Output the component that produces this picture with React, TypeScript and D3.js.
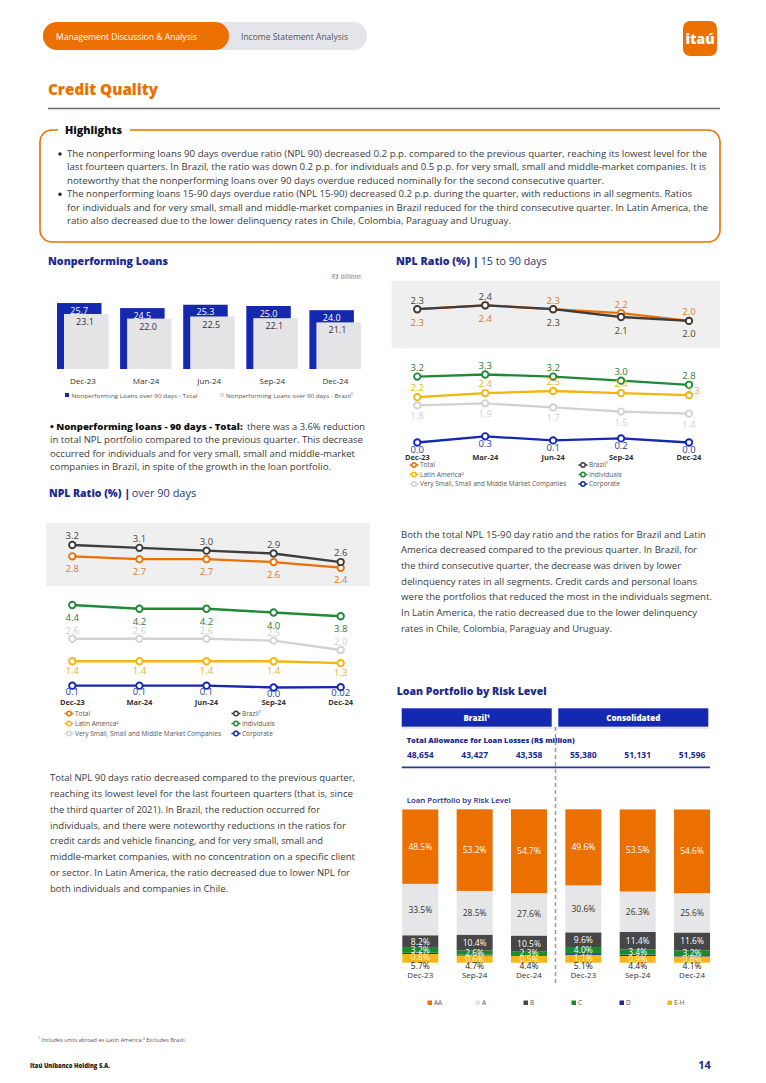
import React from 'react';
import * as d3 from 'd3';

// ---------------- DATA ----------------
const QUARTERS = ['Dec-23', 'Mar-24', 'Jun-24', 'Sep-24', 'Dec-24'];
const NPL_TOTAL = [25.7, 24.5, 25.3, 25.0, 24.0];
const NPL_BRAZIL = [23.1, 22.0, 22.5, 22.1, 21.1];

const R1590_TOTAL = [2.3, 2.4, 2.3, 2.2, 2.0];
const R1590_BRAZIL = [2.3, 2.4, 2.3, 2.1, 2.0];
const R1590_INDIVIDUALS = [3.2, 3.3, 3.2, 3.0, 2.8];
const R1590_LATAM = [2.2, 2.4, 2.5, 2.4, 2.3];
const R1590_SME = [1.8, 1.9, 1.7, 1.5, 1.4];
const R1590_CORPORATE = [0.0, 0.3, 0.1, 0.2, 0.0];

const R90_TOTAL = [2.8, 2.7, 2.7, 2.6, 2.4];
const R90_BRAZIL = [3.2, 3.1, 3.0, 2.9, 2.6];
const R90_INDIVIDUALS = [4.4, 4.2, 4.2, 4.0, 3.8];
const R90_SME = [2.6, 2.6, 2.6, 2.5, 2.0];
const R90_LATAM = [1.4, 1.4, 1.4, 1.4, 1.3];
const R90_CORPORATE = [0.1, 0.1, 0.1, 0.0, 0.02];

const RISK_PERIODS = ['Dec-23', 'Sep-24', 'Dec-24', 'Dec-23', 'Sep-24', 'Dec-24'];
const ALLOWANCE = [48654, 43427, 43358, 55380, 51131, 51596];
const RISK_LEVELS = ['AA', 'A', 'B', 'C', 'D', 'E-H'];
const RISK_AA = [48.5, 53.2, 54.7, 49.6, 53.5, 54.6];
const RISK_A = [33.5, 28.5, 27.6, 30.6, 26.3, 25.6];
const RISK_B = [8.2, 10.4, 10.5, 9.6, 11.4, 11.6];
const RISK_C = [3.2, 2.6, 2.3, 4.0, 3.4, 3.2];
const RISK_D = [0.8, 0.6, 0.5, 1.1, 0.9, 0.8];
const RISK_EH = [5.7, 4.7, 4.4, 5.1, 4.4, 4.1];

// ---------------- TEXT ----------------
const HIGHLIGHTS = [
  { t: 'The nonperforming loans 90 days overdue ratio (NPL 90) decreased 0.2 p.p. compared to the previous quarter, reaching its lowest level for the', end: 707, bullet: true },
  { t: 'last fourteen quarters. In Brazil, the ratio was down 0.2 p.p. for individuals and 0.5 p.p. for very small, small and middle-market companies. It is', end: 706 },
  { t: 'noteworthy that the nonperforming loans over 90 days overdue reduced nominally for the second consecutive quarter.', end: 604 },
  { t: 'The nonperforming loans 15-90 days overdue ratio (NPL 15-90) decreased 0.2 p.p. during the quarter, with reductions in all segments. Ratios', end: 692, bullet: true },
  { t: 'for individuals and for very small, small and middle-market companies in Brazil reduced  for the third consecutive quarter. In Latin America, the', end: 708 },
  { t: 'ratio also decreased due to the lower delinquency rates in Chile, Colombia, Paraguay and Uruguay.', end: 511 },
];
const NPL_PARA = [
  { t: 'in total NPL portfolio compared to the previous quarter. This decrease', end: 363 },
  { t: 'occurred for individuals and for very small, small and middle-market', end: 355 },
  { t: 'companies in Brazil, in spite of the growth in the loan portfolio.', end: 331 },
];
const RIGHT_PARA = [
  { t: 'Both the total NPL 15-90 day ratio and the ratios for Brazil and Latin', end: 706 },
  { t: 'America decreased compared to the previous quarter. In Brazil, for', end: 697 },
  { t: 'the third consecutive quarter, the decrease was driven by lower', end: 681 },
  { t: 'delinquency rates in all segments. Credit cards and personal loans', end: 697 },
  { t: 'were the portfolios that reduced the most in the individuals segment.', end: 712 },
  { t: 'In Latin America, the ratio decreased due to the lower delinquency', end: 697 },
  { t: 'rates in Chile, Colombia, Paraguay and Uruguay.', end: 612 },
];
const LEFT_PARA = [
  { t: 'Total NPL 90 days ratio decreased compared to the previous quarter,', end: 355 },
  { t: 'reaching its lowest level for the last fourteen quarters (that is, since', end: 353 },
  { t: 'the third quarter of 2021). In Brazil, the reduction occurred for', end: 320 },
  { t: 'individuals, and there were noteworthy reductions in the ratios for', end: 346 },
  { t: 'credit cards and vehicle financing, and for very small, small and', end: 323 },
  { t: 'middle-market companies, with no concentration on a specific client', end: 355 },
  { t: 'or sector. In Latin America, the ratio decreased due to lower NPL for', end: 350 },
  { t: 'both individuals and companies in Chile.', end: 228 },
];

// ---------------- STYLE ----------------
const ORANGE = '#ec7000';
const NAVY = '#1b2a8e';
const BLUE = '#1428b0';
const TEXT = '#3a3a3a';
const DARK = '#3d3d3d';
const GREEN = '#1f8a36';
const YELLOW = '#f5b50f';
const LIGHT = '#d2d2d2';
const FONT = "'Open Sans', 'Noto Sans', sans-serif";

const fmt = (v: number) => (Math.abs(v * 10 - Math.round(v * 10)) < 1e-9 ? v.toFixed(1) : String(v));

const T = ({ x, y, w, children, size = 9.5, fill = TEXT, weight = 400, anchor = 'start', italic = false }: any) => (
  <text
    x={x}
    y={y}
    fontSize={size}
    fill={fill}
    fontWeight={weight}
    textAnchor={anchor}
    fontStyle={italic ? 'italic' : undefined}
    {...(w ? { textLength: w, lengthAdjust: 'spacingAndGlyphs' } : {})}
  >
    {children}
  </text>
);

type SeriesCfg = {
  name: string;
  label?: string;
  values: number[];
  color: string;
  labelColor: string;
  panel: 'top' | 'bottom';
  dy: number[];
  dx?: number[];
};

function LineChart({ x0, x1, top, bottom, series, catY, legendX, legendY, legendOrder }: any) {
  const x = d3.scalePoint<string>().domain(QUARTERS).range([x0, x1]);
  const line = (s: SeriesCfg) => {
    const sc = s.panel === 'top' ? top : bottom;
    return d3
      .line<number>()
      .x((_, i) => x(QUARTERS[i]) as number)
      .y((v) => sc(v))(s.values) as string;
  };
  return (
    <g>
      {series.map((s: SeriesCfg) => {
        const sc = s.panel === 'top' ? top : bottom;
        return (
          <g key={s.name}>
            <path d={line(s)} fill="none" stroke={s.color} strokeWidth={2.3} />
            {s.values.map((v, i) => (
              <circle key={i} cx={x(QUARTERS[i])} cy={sc(v)} r={3.2} fill="#fff" stroke={s.color} strokeWidth={1.9} />
            ))}
          </g>
        );
      })}
      {series.map((s: SeriesCfg) => {
        const sc = s.panel === 'top' ? top : bottom;
        return s.values.map((v, i) => (
          <text
            key={s.name + i}
            x={(x(QUARTERS[i]) as number) + (s.dx ? s.dx[i] : 0)}
            y={sc(v) + s.dy[i]}
            fontSize={9.5}
            fill={s.labelColor}
            textAnchor="middle"
          >
            {fmt(v)}
          </text>
        ));
      })}
      {QUARTERS.map((q) => (
        <text key={q} x={x(q)} y={catY} fontSize={7.5} fontWeight={700} fill="#333" textAnchor="middle">
          {q}
        </text>
      ))}
      {legendOrder.map((name: string, k: number) => {
        const s = series.find((d: SeriesCfg) => d.name === name);
        const col = k < 3 ? 0 : 1;
        const row = k % 3;
        const cx = legendX[col];
        const cy = legendY[row];
        return (
          <g key={name}>
            <line x1={cx - 4.5} x2={cx + 4.5} y1={cy} y2={cy} stroke={s.color} strokeWidth={1.6} />
            <circle cx={cx} cy={cy} r={2.2} fill="#fff" stroke={s.color} strokeWidth={1.4} />
            <text x={cx + 6} y={cy + 2.3} fontSize={6.5} fill="#555">
              {s.label || name}
            </text>
          </g>
        );
      })}
    </g>
  );
}

function NplBars() {
  const x = d3.scalePoint<string>().domain(QUARTERS).range([83, 335.4]);
  const y = d3.scaleLinear().domain([10, 30]).range([369, 285]);
  const bw = 44.5;
  return (
    <g>
      {QUARTERS.map((q, i) => {
        const c = x(q) as number;
        return (
          <g key={q}>
            <rect x={c - 26} y={y(NPL_TOTAL[i])} width={bw} height={y(10) - y(NPL_TOTAL[i])} fill={BLUE} />
            <rect x={c - 19} y={y(NPL_BRAZIL[i])} width={bw} height={y(10) - y(NPL_BRAZIL[i])} fill="#e4e4e7" />
            <text x={c - 3.75} y={y(NPL_TOTAL[i]) + 10.5} fontSize={9} fill="#fff" textAnchor="middle">
              {NPL_TOTAL[i].toFixed(1)}
            </text>
            <text x={c + 2} y={y(NPL_BRAZIL[i]) + 11} fontSize={9} fill="#333" textAnchor="middle">
              {NPL_BRAZIL[i].toFixed(1)}
            </text>
            <text x={c} y={384} fontSize={8} fill="#333" textAnchor="middle">
              {q}
            </text>
          </g>
        );
      })}
      <rect x={65} y={393} width={4} height={4} fill={BLUE} />
      <T x={71.5} y={397.5} size={6} fill="#555" w={126}>Nonperforming Loans over 90 days - Total</T>
      <rect x={220} y={393} width={4} height={4} fill="#e0e0e0" />
      <T x={226} y={397.5} size={6} fill="#555" w={127}>Nonperforming Loans over 90 days - Brazil¹</T>
    </g>
  );
}

function RiskChart() {
  const ids = d3.range(RISK_PERIODS.length).map(String);
  const x = d3.scaleBand<string>().domain(ids).range([393.125, 719.225]).paddingInner(0.3376).paddingOuter(0.1688);
  const y = d3.scaleLinear().domain([0, 100]).range([962.7, 809.3]);
  const rows = ids.map((id, i) => ({
    id,
    AA: RISK_AA[i],
    A: RISK_A[i],
    B: RISK_B[i],
    C: RISK_C[i],
    D: RISK_D[i],
    EH: RISK_EH[i],
  }));
  const keys = ['EH', 'D', 'C', 'B', 'A', 'AA'];
  const colors: Record<string, string> = { AA: ORANGE, A: '#e6e6e8', B: '#474747', C: '#1a8a2e', D: '#1a2a9a', EH: '#f7b51a' };
  const labelFill: Record<string, string> = { AA: '#fff', A: '#333', B: '#fff', C: '#fff', D: '#fff3cf', EH: '#222' };
  const stacked = d3.stack<any>().keys(keys)(rows);
  const fmtP = (v: number) => d3.format('.1f')(v) + '%';
  const legendKeys = ['AA', 'A', 'B', 'C', 'D', 'EH'];
  return (
    <g>
      {stacked.map((layer) => (
        <g key={layer.key}>
          {layer.map((d, i) => (
            <rect key={i} x={x(ids[i])} y={y(d[1])} width={x.bandwidth()} height={y(d[0]) - y(d[1])} fill={colors[layer.key]} />
          ))}
        </g>
      ))}
      {stacked.map((layer) =>
        layer.map((d, i) => {
          const k = layer.key;
          const mid = (y(d[0]) + y(d[1])) / 2;
          let ty = mid + 3;
          if (k === 'D') ty = mid + 6.5;
          if (k === 'EH') ty = y(0) + 6;
          return (
            <text key={k + i} x={(x(ids[i]) as number) + x.bandwidth() / 2} y={ty} fontSize={8.5} fill={labelFill[k]} textAnchor="middle">
              {fmtP((d.data as any)[k])}
            </text>
          );
        })
      )}
      {RISK_PERIODS.map((p, i) => (
        <text key={i} x={(x(ids[i]) as number) + x.bandwidth() / 2} y={978} fontSize={8} fill="#333" textAnchor="middle">
          {p}
        </text>
      ))}
      {ALLOWANCE.map((v, i) => (
        <text key={i} x={(x(ids[i]) as number) + x.bandwidth() / 2} y={757.5} fontSize={8.5} fontWeight={700} fill={NAVY} textAnchor="middle">
          {d3.format(',')(v)}
        </text>
      ))}
      {legendKeys.map((k, i) => (
        <g key={k}>
          <rect x={427.5 + 48 * i} y={1000.5} width={4.5} height={4.5} fill={colors[k]} />
          <text x={434 + 48 * i} y={1005} fontSize={6.5} fill="#555">
            {RISK_LEVELS[i]}
          </text>
        </g>
      ))}
    </g>
  );
}

export default function App() {
  const top1590 = d3.scaleLinear().domain([2.0, 2.4]).range([320.9, 305.3]);
  const bot1590 = d3.scaleLinear().domain([0, 3.3]).range([442.5, 374.5]);
  const top90 = d3.scaleLinear().domain([2.4, 3.2]).range([567.7, 545]);
  const bot90 = d3.scaleLinear().domain([0, 4.4]).range([687.5, 605]);

  const series1590: any[] = [
    { name: 'Total', label: 'Total', values: R1590_TOTAL, color: ORANGE, labelColor: '#e07a2a', panel: 'top', dy: [16.5, 16.5, -5.5, -5.5, -5.5] },
    { name: 'Brazil', label: 'Brazil¹', values: R1590_BRAZIL, color: DARK, labelColor: '#444', panel: 'top', dy: [-5.5, -5.5, 16.5, 16.5, 16.5] },
    { name: 'Individuals', label: 'Individuals', values: R1590_INDIVIDUALS, color: GREEN, labelColor: '#2a7a35', panel: 'bottom', dy: [-6, -6, -6, -6, -6] },
    { name: 'LatAm', label: 'Latin America²', values: R1590_LATAM, color: YELLOW, labelColor: '#e9b21c', panel: 'bottom', dy: [-6, -6, -6, -6, -1], dx: [0, 0, 0, 0, 4] },
    { name: 'SME', label: 'Very Small, Small and Middle Market Companies', values: R1590_SME, color: LIGHT, labelColor: '#cfcfcf', panel: 'bottom', dy: [14, 14, 14, 14, 14] },
    { name: 'Corporate', label: 'Corporate', values: R1590_CORPORATE, color: BLUE, labelColor: '#2a3aa0', panel: 'bottom', dy: [10.5, 10.5, 10.5, 10.5, 10.5] },
  ];
  const series90: any[] = [
    { name: 'Total', label: 'Total', values: R90_TOTAL, color: ORANGE, labelColor: '#e07a2a', panel: 'top', dy: [15.5, 15.5, 15.5, 15.5, 15.5] },
    { name: 'Brazil', label: 'Brazil¹', values: R90_BRAZIL, color: DARK, labelColor: '#444', panel: 'top', dy: [-6, -6, -6, -6, -6] },
    { name: 'Individuals', label: 'Individuals', values: R90_INDIVIDUALS, color: GREEN, labelColor: '#2a7a35', panel: 'bottom', dy: [16, 16, 16, 16, 16] },
    { name: 'SME', label: 'Very Small, Small and Middle Market Companies', values: R90_SME, color: LIGHT, labelColor: '#cfcfcf', panel: 'bottom', dy: [-5, -5, -5, -5, -5] },
    { name: 'LatAm', label: 'Latin America²', values: R90_LATAM, color: YELLOW, labelColor: '#e9b21c', panel: 'bottom', dy: [12.5, 12.5, 12.5, 12.5, 12.5] },
    { name: 'Corporate', label: 'Corporate', values: R90_CORPORATE, color: BLUE, labelColor: '#2a3aa0', panel: 'bottom', dy: [9.2, 9.2, 9.2, 9.2, 9.2] },
  ];
  const legendOrder = ['Total', 'LatAm', 'SME', 'Brazil', 'Individuals', 'Corporate'];

  return (
    <svg
      width={766}
      height={1083}
      viewBox="0 0 766 1083"
      style={{ position: 'absolute', left: 0, top: 0, background: '#fff' }}
      fontFamily={FONT}
    >
      <rect x={0} y={0} width={766} height={1083} fill="#fff" />
      {/* Header */}
      <rect x={43} y={22} width={324} height={28} rx={14} fill="#e4e5ea" />
      <rect x={43} y={22} width={186} height={28} rx={14} fill={ORANGE} />
      <T x={56} y={39.5} size={8.5} fill="#fff" w={141}>Management Discussion &amp; Analysis</T>
      <T x={241} y={39.5} size={8.5} fill="#555" w={107}>Income Statement Analysis</T>
      <rect x={683} y={21} width={34} height={35} rx={7} fill={ORANGE} />
      <text x={700} y={44} fontSize={14} fontWeight={800} fill="#fff" textAnchor="middle">itaú</text>
      <T x={48} y={95} size={15.5} weight={800} fill={ORANGE} w={110}>Credit Quality</T>
      <line x1={48} x2={720} y1={108.5} y2={108.5} stroke="#6b6b6b" strokeWidth={1.5} />

      {/* Highlights */}
      <rect x={40} y={130} width={680} height={112} rx={12} fill="none" stroke={ORANGE} strokeWidth={1.6} />
      <rect x={58} y={124} width={72} height={12} fill="#fff" />
      <T x={65} y={134} size={10} weight={800} fill="#111" w={57}>Highlights</T>
      {HIGHLIGHTS.map((l, i) => (
        <g key={i}>
          {l.bullet && <circle cx={60} cy={157 + 13.4 * i - 3} r={1.7} fill="#222" />}
          <T x={67} y={157 + 13.4 * i} size={9.2} w={l.end - 67}>{l.t}</T>
        </g>
      ))}

      {/* Nonperforming Loans */}
      <T x={48} y={265} size={11} weight={800} fill={NAVY} w={120}>Nonperforming Loans</T>
      <T x={361} y={279} size={6.5} fill="#777" italic anchor="end">R$ billions</T>
      <NplBars />
      <T x={50} y={430} size={9.5} weight={800} fill="#111" w={192.7}>• Nonperforming loans - 90 days - Total:</T>
      <T x={247} y={430} size={9.5} w={118}>there was a 3.6% reduction</T>
      {NPL_PARA.map((l, i) => (
        <T key={i} x={50} y={443.3 + 13.3 * i} size={9.5} w={l.end - 50}>{l.t}</T>
      ))}

      {/* NPL 15-90 */}
      <T x={396} y={265} size={11} weight={800} fill={NAVY} w={74}>NPL Ratio (%)</T>
      <T x={473} y={265} size={11} weight={800} fill={NAVY}>|</T>
      <T x={480.7} y={265} size={11} fill="#2e3578" w={66}>15 to 90 days</T>
      <rect x={391.7} y={280.7} width={328.3} height={67.6} fill="#efefef" />
      <LineChart
        x0={417.3}
        x1={689}
        top={top1590}
        bottom={bot1590}
        series={series1590}
        catY={459.5}
        legendX={[414, 583]}
        legendY={[465, 474.5, 484]}
        legendOrder={legendOrder}
      />

      {/* NPL 90 */}
      <T x={49} y={497} size={11} weight={800} fill={NAVY} w={72.5}>NPL Ratio (%)</T>
      <T x={124.5} y={497} size={11} weight={800} fill={NAVY}>|</T>
      <T x={131.7} y={497} size={11} fill="#2e3578" w={64.5}>over 90 days</T>
      <rect x={46} y={523.3} width={324} height={62.7} fill="#efefef" />
      <LineChart
        x0={72.3}
        x1={340.7}
        top={top90}
        bottom={bot90}
        series={series90}
        catY={704.5}
        legendX={[69, 236]}
        legendY={[713.5, 723.5, 733.5]}
        legendOrder={legendOrder}
      />

      {/* Right paragraph */}
      {RIGHT_PARA.map((l, i) => (
        <T key={i} x={401} y={537.5 + 15.7 * i} size={9.8} w={l.end - 401}>{l.t}</T>
      ))}

      {/* Left paragraph */}
      {LEFT_PARA.map((l, i) => (
        <T key={i} x={50} y={781 + 15.85 * i} size={9.8} w={l.end - 50}>{l.t}</T>
      ))}

      {/* Loan Portfolio by Risk Level */}
      <T x={396.7} y={695} size={11} weight={800} fill={NAVY} w={150}>Loan Portfolio by Risk Level</T>
      <rect x={401.7} y={708.3} width={150} height={18.4} fill={BLUE} />
      <rect x={558.3} y={708.3} width={150} height={18.4} fill={BLUE} />
      <text x={476.7} y={720.5} fontSize={8} fontWeight={800} fill="#fff" textAnchor="middle">Brazil¹</text>
      <text x={633.3} y={720.5} fontSize={8} fontWeight={800} fill="#fff" textAnchor="middle">Consolidated</text>
      <line x1={401.7} x2={710} y1={728} y2={728} stroke="#d4d6e6" strokeWidth={1} />
      <T x={406.7} y={742.5} size={7.5} weight={800} fill={NAVY} w={168}>Total Allowance for Loan Losses (R$ million)</T>
      <line x1={401.7} x2={710} y1={767.3} y2={767.3} stroke="#2b3a9a" strokeWidth={1.8} />
      <line x1={555.5} x2={555.5} y1={727} y2={985} stroke="#9a9a9a" strokeWidth={1.5} strokeDasharray="4,3" />
      <T x={406.7} y={803} size={7.5} weight={600} fill={NAVY} w={104}>Loan Portfolio by Risk Level</T>
      <RiskChart />

      {/* Footer */}
      <T x={38} y={1042} size={6} fill="#555" w={148}>¹ Includes units abroad ex-Latin America.² Excludes Brazil.</T>
      <T x={30} y={1068} size={7} weight={800} fill="#222" w={80}>Itaú Unibanco Holding S.A.</T>
      <text x={704.5} y={1069} fontSize={11} fontWeight={700} fill={NAVY} textAnchor="middle">14</text>
    </svg>
  );
}
